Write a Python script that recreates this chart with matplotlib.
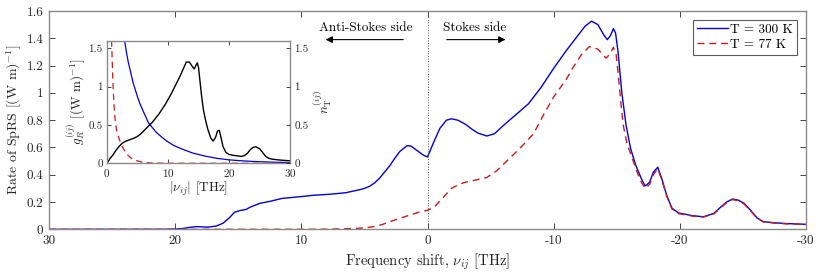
import matplotlib
matplotlib.use("Agg")
import matplotlib.pyplot as plt

# ---------------- data ----------------
# Main plot: frequency shift nu_ij [THz] (positive = anti-Stokes, negative = Stokes)
nu_300 = [30, 21, 20, 19.4, 18.8, 18.3, 17.4, 16.75, 16.2, 15.7, 15.3, 14.9, 14.4, 14.0,
          13.3, 12.5, 11.5, 10, 9, 7.76, 6.5, 5.4, 5.0, 4.6, 4.2, 3.8, 3.4, 3.0, 2.6, 2.2,
          1.62, 1.3, 0.87, 0.35, 0, -0.45, -0.98, -1.5, -1.9, -2.4, -3, -3.5, -4, -4.7,
          -5.3, -6, -7, -8, -9, -10, -11, -12, -12.5, -13, -13.5, -14, -14.25, -14.5,
          -14.73, -14.9, -15.1, -15.4, -15.74, -16.1, -16.5, -17.0, -17.25, -17.6, -17.9,
          -18.25, -18.57, -18.97, -19.37, -19.9, -21, -21.87, -22.7, -23.2, -23.7, -24.17,
          -24.6, -25.1, -25.6, -26.1, -26.6, -27.5, -28.5, -30]
rate_300 = [0, 0.0005, 0.002, 0.006, 0.015, 0.02, 0.016, 0.024, 0.045, 0.085, 0.125, 0.137,
            0.145, 0.165, 0.19, 0.205, 0.227, 0.24, 0.25, 0.257, 0.268, 0.29, 0.30, 0.315,
            0.34, 0.375, 0.42, 0.465, 0.52, 0.57, 0.613, 0.61, 0.58, 0.545, 0.53, 0.63,
            0.74, 0.80, 0.81, 0.80, 0.77, 0.735, 0.705, 0.684, 0.70, 0.76, 0.84, 0.92, 1.04,
            1.18, 1.31, 1.43, 1.49, 1.525, 1.50, 1.42, 1.39, 1.42, 1.47, 1.44, 1.30, 1.0,
            0.76, 0.59, 0.47, 0.36, 0.317, 0.345, 0.42, 0.455, 0.37, 0.245, 0.155, 0.12,
            0.10, 0.092, 0.117, 0.16, 0.20, 0.222, 0.215, 0.19, 0.14, 0.085, 0.056, 0.048,
            0.042, 0.037]

nu_77 = [30, 10, 8.3, 7, 5.6, 5, 4.3, 3.6, 3.0, 2.2, 1.4, 0.5, 0, -0.5, -1, -1.5, -1.9,
         -2.5, -3, -3.5, -4, -4.7, -5.5, -6.5, -7.33, -8, -8.4, -9.2, -10, -11, -11.56,
         -12.2, -12.83, -13.5, -14.15, -14.5, -14.73, -14.95, -15.1, -15.3, -15.5, -15.8,
         -16.3, -16.85, -17.25, -17.6, -17.9, -18.25, -18.57, -18.97, -19.37, -19.9, -21,
         -21.87, -22.7, -23.2, -23.7, -24.17, -24.6, -25.1, -25.6, -26.1, -26.6, -27.5,
         -28.5, -30]
rate_77 = [0, 0.0003, 0.001, 0.003, 0.007, 0.011, 0.019, 0.035, 0.056, 0.08, 0.105, 0.13,
           0.14, 0.16, 0.21, 0.26, 0.30, 0.33, 0.345, 0.355, 0.365, 0.38, 0.43, 0.52, 0.594,
           0.66, 0.70, 0.84, 0.97, 1.10, 1.19, 1.28, 1.339, 1.32, 1.254, 1.29, 1.334, 1.28,
           1.15, 0.95, 0.77, 0.63, 0.50, 0.36, 0.30, 0.33, 0.40, 0.445, 0.36, 0.24, 0.15,
           0.115, 0.097, 0.09, 0.113, 0.155, 0.195, 0.218, 0.21, 0.185, 0.135, 0.083, 0.055,
           0.046, 0.04, 0.035]

# Inset: Raman gain g_R vs |nu|
nu_g = [0, 0.5, 1, 1.5, 2, 2.5, 3, 3.5, 4, 4.5, 5, 5.5, 6, 6.5, 7, 7.5, 8, 8.5, 9, 9.5,
        10, 10.5, 11, 11.5, 12, 12.5, 13, 13.5, 14, 14.3, 14.6, 14.8, 15.0, 15.2, 15.5,
        15.8, 16.1, 16.5, 17.0, 17.4, 17.8, 18.1, 18.4, 18.7, 19.0, 19.5, 20, 21, 22, 22.5,
        23, 23.5, 24, 24.4, 25, 25.5, 26, 26.5, 27, 28, 29, 30]
g_R = [0, 0.06, 0.11, 0.17, 0.22, 0.26, 0.285, 0.30, 0.315, 0.33, 0.35, 0.38, 0.42, 0.46,
       0.50, 0.54, 0.59, 0.64, 0.70, 0.76, 0.83, 0.90, 0.98, 1.06, 1.14, 1.23, 1.32, 1.32,
       1.26, 1.23, 1.28, 1.31, 1.25, 1.10, 0.88, 0.70, 0.58, 0.45, 0.33, 0.29, 0.34, 0.42,
       0.43, 0.33, 0.22, 0.14, 0.115, 0.10, 0.09, 0.10, 0.13, 0.18, 0.21, 0.215, 0.19, 0.14,
       0.09, 0.065, 0.055, 0.045, 0.038, 0.033]

# Inset: thermal occupation n_T
nu_n300 = [2.9, 3.2, 3.5, 4.0, 4.3, 5.0, 5.4, 6.0, 6.8, 8.0, 9.0, 9.8, 11, 12.5, 14, 15,
           16, 17, 18, 20, 22, 24, 26, 28, 30]
n_300 = [1.6, 1.45, 1.32, 1.15, 1.05, 0.87, 0.78, 0.67, 0.53, 0.41, 0.34, 0.29, 0.23, 0.18,
         0.135, 0.115, 0.095, 0.08, 0.065, 0.045, 0.033, 0.024, 0.018, 0.013, 0.01]
nu_n77 = [0.77, 0.85, 0.95, 1.05, 1.2, 1.35, 1.6, 2.0, 2.5, 3.0, 3.5, 4.0, 5.0, 6.0, 7.0,
          8.0, 10, 30]
n_77 = [1.6, 1.4, 1.15, 0.95, 0.72, 0.57, 0.43, 0.32, 0.22, 0.15, 0.10, 0.065, 0.03, 0.012,
        0.005, 0.002, 0.0005, 0.0]

legend_labels = ["T = 300 K", "T = 77 K"]
main_xticks = [30, 20, 10, 0, -10, -20, -30]
main_yticks = [0, 0.2, 0.4, 0.6, 0.8, 1.0, 1.2, 1.4, 1.6]
inset_xticks = [0, 10, 20, 30]
inset_yticks = [0, 0.5, 1, 1.5]

# ---------------- style ----------------
plt.rcParams['font.family'] = ['cmr10', 'DejaVu Serif']
plt.rcParams['mathtext.fontset'] = 'cm'
plt.rcParams['axes.unicode_minus'] = False
plt.rcParams['axes.formatter.use_mathtext'] = True

BLUE = '#0000DD'
RED = '#CC1A1A'
SPINE = '#8a8a8a'
TXT = '#262626'

fig = plt.figure(figsize=(8.22, 2.74), dpi=100)
ax = fig.add_axes([0.0596, 0.163, 0.921, 0.797])

ax.plot(nu_300, rate_300, color=BLUE, lw=1.0, label=legend_labels[0])
ax.plot(nu_77, rate_77, color=RED, lw=1.0, ls=(0, (5, 3.5)), label=legend_labels[1])
ax.axvline(0, color='#555555', lw=0.7, ls=':')

ax.set_xlim(30, -30)
ax.set_ylim(0, 1.6)
ax.set_xticks(main_xticks)
ax.set_xticklabels([str(t) for t in main_xticks])
ax.set_yticks(main_yticks)
ax.set_yticklabels(['0' if t == 0 else ('1' if t == 1 else f'{t:.1f}') for t in main_yticks])
ax.tick_params(direction='in', top=True, right=True, length=4, width=0.6,
               labelsize=9.5, colors=TXT, pad=4)
for s in ax.spines.values():
    s.set_color(SPINE)
    s.set_linewidth(1.0)
ax.set_xlabel(r'Frequency shift, $\nu_{ij}$ [THz]', fontsize=10.5, color=TXT, labelpad=3)
ax.set_ylabel(r'Rate of SpRS [(W m)$^{-1}$]', fontsize=10, color=TXT, labelpad=2)

leg = ax.legend(loc='upper right', fontsize=9.5, frameon=True, fancybox=False,
                edgecolor='#333333', handlelength=2.4, handletextpad=0.15,
                borderpad=0.3, labelspacing=0.2, borderaxespad=0.0,
                bbox_to_anchor=(0.988, 0.96))
leg.get_frame().set_linewidth(0.8)

# annotations
ax.text(4.9, 1.475, 'Anti-Stokes side', ha='center', va='center', fontsize=9.5, color='black')
ax.annotate('', xy=(8.3, 1.39), xytext=(1.7, 1.39),
            arrowprops=dict(arrowstyle='-|>', color='black', lw=0.8,
                            mutation_scale=10))
ax.text(-3.7, 1.475, 'Stokes side', ha='center', va='center', fontsize=9.5, color='black')
ax.annotate('', xy=(-6.4, 1.39), xytext=(-1.3, 1.39),
            arrowprops=dict(arrowstyle='-|>', color='black', lw=0.8,
                            mutation_scale=10))

# ---------------- inset ----------------
ins = fig.add_axes([0.130, 0.404, 0.223, 0.448])
ins.set_facecolor('white')
ins.plot(nu_n300, n_300, color=BLUE, lw=0.9)
ins.plot(nu_n77, n_77, color=RED, lw=0.9, ls=(0, (5, 3.5)))
ins.plot(nu_g, g_R, color='black', lw=1.0)
ins.set_xlim(0, 30)
ins.set_ylim(0, 1.6)
ins.set_xticks(inset_xticks)
ins.set_yticks(inset_yticks)
ins.set_yticklabels(['0', '0.5', '1', '1.5'])
ins.tick_params(direction='in', top=True, right=True, length=3, width=0.6,
                labelsize=8, colors=TXT, pad=3)
for s in ins.spines.values():
    s.set_color(SPINE)
    s.set_linewidth(1.0)
ins.set_xlabel(r'$|\nu_{ij}|$ [THz]', fontsize=9.5, color=TXT, labelpad=0)
ins.set_ylabel(r'$g_R^{(ij)}$ [(W m)$^{-1}$]', fontsize=9.5, color=TXT, labelpad=1)

ins2 = ins.twinx()
ins2.set_ylim(0, 1.6)
ins2.set_yticks(inset_yticks)
ins2.set_yticklabels(['0', '0.5', '1', '1.5'])
ins2.tick_params(direction='in', length=3, width=0.6, labelsize=8, colors=TXT, pad=3)
for s in ins2.spines.values():
    s.set_visible(False)
ins2.set_ylabel(r'$n_{\mathrm{T}}^{(ij)}$', fontsize=9.5, color=TXT, labelpad=2)

fig.savefig('out.png', dpi=100)
